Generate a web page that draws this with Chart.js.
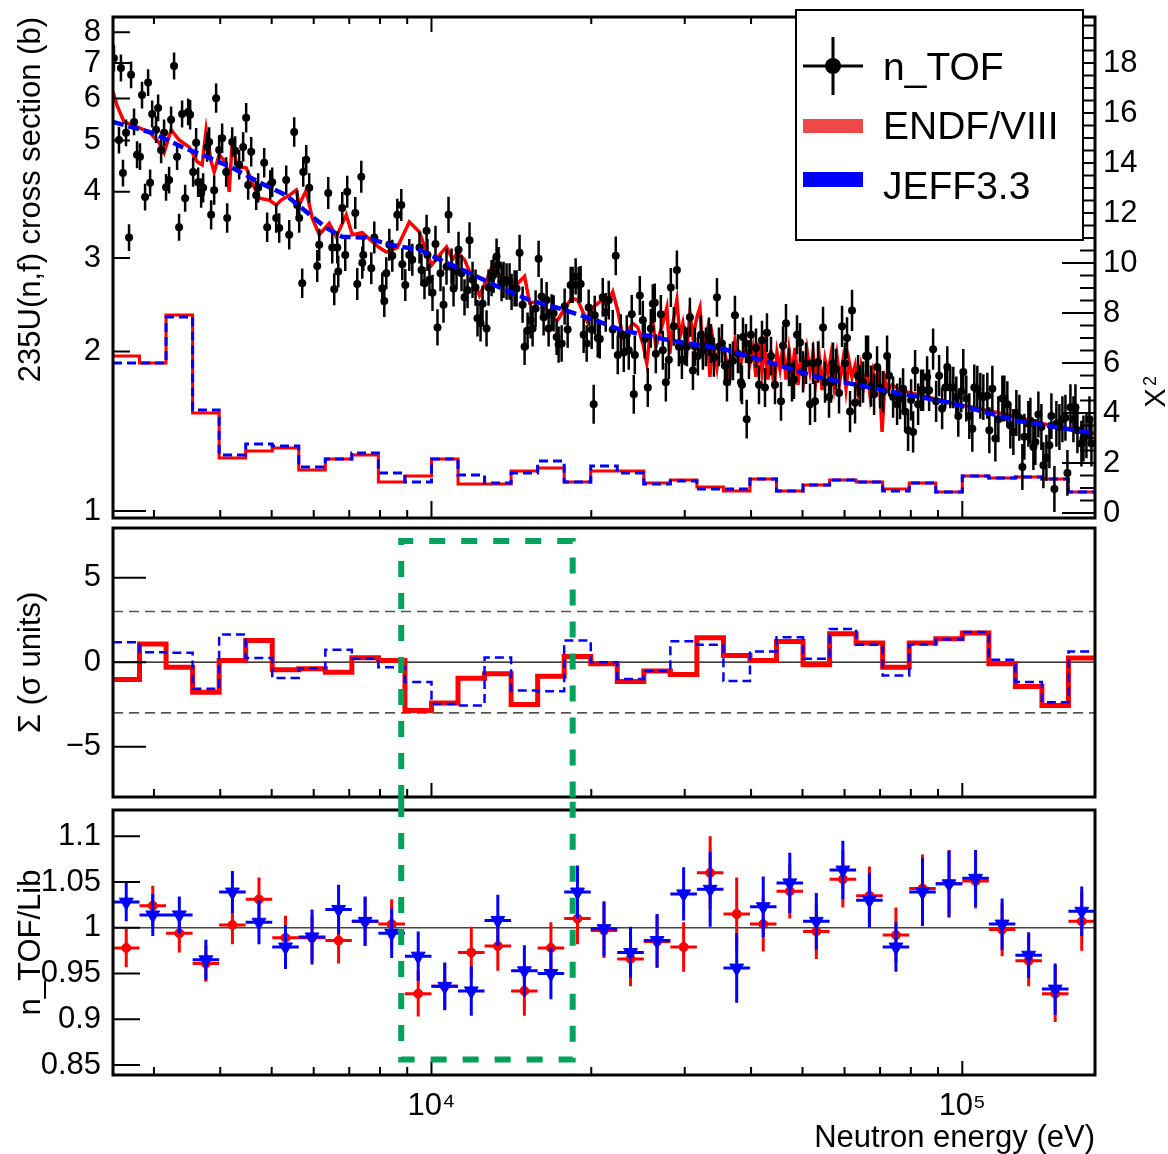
<!DOCTYPE html>
<html>
<head>
<meta charset="utf-8">
<title>235U(n,f) cross section</title>
<script src="https://cdn.jsdelivr.net/npm/chart.js@4.4.1/dist/chart.umd.min.js"></script>
<style>
  body { margin: 0; background: #fff; }
  #page { position: relative; width: 1168px; height: 1154px; }
  #page canvas { position: absolute; left: 0; }
</style>
</head>
<body>
<div id="page">
  <canvas id="xsChart" width="1168" height="524" style="top:0"></canvas>
  <canvas id="sigmaChart" width="1168" height="277" style="top:524px"></canvas>
  <canvas id="ratioChart" width="1168" height="353" style="top:801px"></canvas>
</div>
<script>
Chart.defaults.font.family = "'Liberation Sans', Arial, Helvetica, sans-serif";
Chart.defaults.color = '#000';

// ---------- axis ticks / labels ----------
const xMajorTicks = [10000, 100000];
const xTickLabels = ['10\u2074', '10\u2075'];
const xMinorTicks = [3000, 4000, 5000, 6000, 7000, 8000, 9000,
  20000, 30000, 40000, 50000, 60000, 70000, 80000, 90000];
const xsTickLabels = [1, 2, 3, 4, 5, 6, 7, 8];
const chi2TickLabels = [0, 2, 4, 6, 8, 10, 12, 14, 16, 18];
const sigmaTickLabels = [-5, 0, 5];
const ratioTickLabels = [0.85, 0.9, 0.95, 1, 1.05, 1.1];

// ---------- energy bins (eV) ----------
const binEdges = [2512, 2818, 3162, 3548, 3981, 4467, 5012, 5623, 6310, 7079,
  7943, 8913, 10000, 11220, 12589, 14125, 15849, 17783, 19953, 22387,
  25119, 28184, 31623, 35481, 39811, 44668, 50119, 56234, 63096, 70795,
  79433, 89125, 100000, 112202, 125893, 141254, 158489, 177828];

// ---------- n_TOF data points ----------
const tofEnergy = [
  2522, 2578, 2600, 2623, 2658, 2693, 2717, 2752, 2788, 2824,
  2849, 2887, 2925, 2951, 2977, 3028, 3055, 3095, 3135, 3162,
  3204, 3232, 3274, 3317, 3346, 3390, 3435, 3480, 3510, 3556,
  3603, 3634, 3682, 3714, 3779, 3812, 3845, 3896, 3929, 3981,
  4033, 4104, 4122, 4213, 4267, 4342, 4418, 4476, 4515, 4575,
  4675, 4715, 4840, 4903, 4968, 5011, 5099, 5166, 5325, 5395,
  5513, 5585, 5634, 5708, 5733, 5808, 5884, 6092, 6145, 6390,
  6502, 6559, 6645, 6674, 6791, 6879, 6939, 7185, 7248, 7375,
  7407, 7439, 7702, 7803, 8079, 8149, 8220, 8328, 8437, 8622,
  8773, 8811, 8926, 9083, 9202, 9493, 9576, 9701, 9790, 9828,
  9913, 10044, 10175, 10264, 10399, 10536, 10674, 10767, 10908, 11004,
  11148, 11245, 11393, 11541, 11693, 11795, 11950, 12106, 12211, 12372,
  12480, 12698, 12809, 12977, 13091, 13262, 13378, 13553, 13672, 13850,
  14032, 14155, 14340, 14465, 14655, 14847, 14976, 15172, 15372, 15506,
  15709, 15916, 16124, 16265, 16478, 16622, 16840, 16987, 17209, 17359,
  17587, 17818, 18052, 18289, 18449, 18689, 18934, 19100, 19350, 19604,
  19775, 20034, 20209, 20303, 20569, 20749, 21021, 21294, 21574, 21952,
  22241, 22435, 22729, 23028, 23330, 23533, 23842, 24050, 24159, 24690,
  25014, 25224, 25556, 25891, 26117, 26345, 26463, 27044, 27280, 27638,
  28001, 28245, 28616, 28995, 29248, 29632, 30021, 30282, 30680, 31083,
  31354, 31766, 32182, 32463, 32889, 33321, 33612, 34053, 34498, 34799,
  35256, 35718, 36030, 36503, 36982, 37299, 37789, 38285, 38452, 38619,
  39125, 39250, 39638, 39984, 40863, 41400, 41943, 42493, 42857, 43609,
  44374, 45547, 45945, 46544, 47154, 47773, 48190, 48819, 49460, 50109,
  50769, 51660, 52338, 52790, 53483, 54658, 55128, 56095, 56585, 57079,
  57825, 58585, 59354, 60132, 60654, 61450, 61986, 62799, 63624, 64180,
  65022, 65874, 66450, 67322, 68205, 69093, 70000, 70918, 72162, 72793,
  74069, 75361, 76350, 77352, 78027, 79049, 80087, 80786, 81489, 82559,
  83642, 84373, 85843, 86593, 88111, 89264, 90436, 91623, 92888, 93700,
  94930, 96175, 97430, 98276, 99566, 100435, 101753, 103090, 104444, 105355,
  106738, 108140, 109559, 111476, 112450, 113926, 115420, 116929, 118980, 120018,
  121584, 123180, 124796, 126432, 128092, 129773, 130905, 133196, 134360, 136123,
  137302, 139105, 140930, 142161, 144024, 145914, 147188, 149119, 150411, 152386,
  154386, 156411, 157778, 159850, 161947, 163360, 164776, 167666, 169130, 171344,
  173593, 175108
];
const tofXs = [
  7.15, 5.01, 6.85, 4.34, 5.17, 3.28, 6.65, 5.42, 4.70, 4.66,
  6.09, 3.91, 6.43, 4.16, 5.61, 5.24, 5.76, 4.80, 5.17, 4.08,
  4.21, 5.47, 6.91, 4.66, 3.43, 5.61, 3.89, 5.66, 5.59, 4.36,
  4.95, 4.17, 3.98, 4.07, 4.86, 4.97, 3.62, 4.03, 6.01, 4.80,
  5.05, 4.36, 3.57, 4.97, 4.78, 4.50, 4.86, 5.52, 4.12, 4.76,
  3.94, 4.07, 4.54, 3.43, 4.12, 4.17, 3.57, 3.42, 4.21, 3.32,
  5.19, 3.78, 3.57, 2.69, 4.36, 4.60, 4.07, 2.90, 3.18, 3.98,
  3.14, 2.62, 3.14, 2.83, 3.73, 3.04, 4.00, 3.65, 2.68, 4.27,
  2.94, 3.04, 2.87, 3.28, 2.63, 2.49, 2.81, 3.18, 3.03, 3.62,
  3.78, 2.92, 2.67, 3.04, 2.98, 3.14, 2.85, 2.69, 3.38, 3.04,
  2.73, 2.58, 3.19, 2.22, 2.81, 2.45, 2.89, 3.62, 2.89, 2.63,
  2.84, 3.11, 2.81, 2.53, 2.61, 3.24, 2.73, 2.64, 2.31, 2.26,
  2.46, 2.21, 2.64, 2.75, 2.79, 3.02, 2.91, 2.69, 2.73, 2.71,
  2.71, 2.59, 2.63, 2.63, 3.07, 2.45, 2.04, 2.19, 2.29, 2.21,
  2.41, 2.99, 2.54, 2.32, 2.50, 2.21, 2.37, 2.36, 2.13, 2.06,
  2.07, 2.43, 2.20, 2.67, 2.67, 2.77, 2.67, 2.68, 2.15, 2.07,
  2.42, 2.20, 1.59, 2.34, 2.12, 2.11, 2.53, 2.37, 2.50, 2.20,
  3.03, 1.97, 2.16, 1.99, 2.15, 2.01, 2.35, 1.66, 1.97, 2.55,
  2.29, 2.11, 1.71, 2.21, 2.46, 2.47, 1.98, 2.35, 2.01, 1.75,
  1.93, 2.64, 2.23, 2.85, 2.04, 1.93, 2.05, 2.04, 2.32, 1.84,
  2.04, 1.96, 2.15, 2.01, 2.04, 2.13, 2.07, 1.95, 2.53, 2.04,
  2.07, 1.88, 1.75, 1.90, 1.92, 2.34, 1.98, 1.75, 1.73, 2.13,
  2.07, 1.49, 1.93, 2.15, 2.03, 1.73, 2.10, 1.71, 2.17, 1.96,
  1.73, 1.61, 2.05, 2.26, 1.87, 1.75, 1.77, 2.15, 2.08, 1.83,
  1.90, 1.59, 1.90, 1.61, 1.91, 2.22, 1.75, 1.64, 1.75, 1.90,
  1.85, 1.67, 2.23, 1.90, 2.12, 1.54, 2.39, 1.60, 1.80, 1.72,
  1.75, 1.96, 1.96, 1.72, 1.66, 1.87, 1.71, 1.68, 1.96, 1.80,
  1.64, 1.59, 1.63, 1.70, 1.54, 1.42, 1.62, 1.41, 1.84, 1.59,
  1.69, 1.69, 1.79, 1.69, 2.02, 1.61, 1.80, 1.56, 1.71, 1.87,
  1.71, 1.71, 1.64, 1.51, 1.68, 1.83, 1.63, 1.51, 1.43, 1.71,
  1.70, 1.65, 1.64, 1.65, 1.42, 1.70, 1.37, 1.49, 1.63, 1.63,
  1.59, 1.45, 1.41, 1.53, 1.50, 1.21, 1.38, 1.46, 1.48, 1.32,
  1.35, 1.52, 1.44, 1.22, 1.26, 1.33, 1.51, 1.10, 1.46, 1.44,
  1.49, 1.50, 1.18, 1.57, 1.49, 1.57, 1.42, 1.34, 1.37, 1.39,
  1.49, 1.34
];
// relative uncertainty of n_TOF points, by energy band [upper edge, rel. error]
const tofRelErr = [[3500, 0.06], [6000, 0.066], [10000, 0.072], [20000, 0.082],
  [50000, 0.088], [100000, 0.094], [1e9, 0.105]];

// ---------- evaluated libraries ----------
const endfEnergy = [
  2512, 2555, 2635, 2728, 2938, 3068, 3135, 3232, 3346, 3495,
  3618, 3698, 3763, 3845, 3896, 3981, 4104, 4158, 4213, 4304,
  4476, 4594, 4736, 4946, 5099, 5211, 5395, 5561, 5634, 5808,
  5961, 6145, 6418, 6616, 6909, 7092, 7407, 7735, 7974, 8220,
  8622, 9083, 9493, 9701, 10000, 10264, 10674, 10956, 11196, 11541,
  11898, 12318, 12698, 13034, 13553, 13910, 14340, 14655, 14976, 15305,
  15778, 16195, 16840, 17284, 17818, 18369, 18852, 19604, 20122, 20930,
  21387, 21952, 22435, 22928, 23431, 23946, 24476, 25014, 25445, 25779,
  26117, 26463, 27280, 27759, 28123, 28492, 28995, 29376, 29761, 30282,
  30680, 31083, 31628, 32043, 32463, 33032, 33466, 33905, 34498, 34951,
  35718, 36503, 37299, 38119, 38956, 39811, 40333, 40863, 41400, 41943,
  42493, 43044, 43609, 44182, 44762, 45350, 45945, 46544, 47154, 47773,
  48400, 49032, 49675, 50327, 50991, 51660, 52338, 53020, 53716, 54421,
  55128, 55852, 56585, 57328, 58077, 58840, 59612, 60391, 61183, 61986,
  62799, 63624, 64459, 65305, 66161, 67030, 67909, 68793, 69696, 70611,
  71537, 72477, 73748, 76350, 94930, 117950, 146550, 177828
];
const endfXs = [
  6.18, 5.83, 5.42, 5.35, 5.19, 4.95, 4.74, 5.24, 5.01, 4.86,
  4.56, 4.50, 5.24, 4.56, 4.36, 4.70, 4.54, 4.00, 4.97, 4.46,
  4.44, 4.17, 3.89, 3.86, 3.78, 3.86, 3.94, 4.03, 3.78, 4.03,
  3.57, 3.32, 3.49, 3.29, 3.62, 3.32, 3.35, 3.22, 3.14, 3.08,
  3.14, 3.51, 3.36, 3.15, 2.91, 3.01, 3.15, 2.98, 3.07, 2.98,
  2.77, 2.55, 2.73, 2.91, 2.75, 2.75, 2.64, 2.71, 2.77, 2.47,
  2.48, 2.47, 2.32, 2.29, 2.41, 2.52, 2.50, 2.29, 2.42, 2.50,
  2.45, 2.59, 2.39, 2.13, 2.19, 2.26, 2.22, 2.07, 1.90, 2.13,
  2.29, 2.04, 2.26, 2.42, 1.98, 2.26, 2.50, 2.13, 2.26, 2.01,
  2.36, 2.13, 2.32, 2.42, 1.98, 2.17, 1.79, 2.10, 1.87, 2.10,
  1.98, 1.79, 2.10, 1.87, 2.04, 1.90, 2.03, 1.79, 2.08, 1.83,
  2.05, 1.77, 2.01, 1.70, 1.99, 1.85, 2.05, 1.77, 2.01, 1.81,
  2.03, 1.73, 1.97, 1.79, 2.01, 1.83, 1.99, 1.77, 1.97, 1.69,
  1.93, 1.81, 1.97, 1.73, 1.96, 1.77, 1.93, 1.70, 1.92, 1.79,
  1.88, 1.68, 1.87, 1.73, 1.85, 1.65, 1.83, 1.73, 1.81, 1.41,
  1.77, 1.69, 1.73, 1.69, 1.60, 1.53, 1.45, 1.40
];
const jeffEnergy = [2512, 2977, 3390, 3812, 4213, 4736, 5325, 5808, 6335, 6791,
  7536, 8328, 9493, 10581, 11795, 13436, 15305, 17435, 19861, 22631,
  26117, 30282, 34951, 41580, 53251, 70918, 94930, 126982, 177828];
const jeffXs = [5.42, 5.17, 4.86, 4.64, 4.44, 4.17, 3.94, 3.67, 3.42, 3.29,
  3.28, 3.18, 3.11, 2.95, 2.81, 2.64, 2.50, 2.41, 2.31, 2.20,
  2.13, 2.07, 2.03, 1.93, 1.79, 1.69, 1.60, 1.48, 1.40];

// ---------- chi2 per bin (right axis) ----------
const chi2Endf = [6.28, 6.00, 7.92, 4.00, 2.20, 2.48, 2.60, 1.72, 2.16, 2.32,
  1.24, 1.48, 2.16, 1.16, 1.16, 1.68, 1.80, 1.24, 1.68, 1.68,
  1.20, 1.32, 1.04, 0.88, 1.36, 0.88, 1.12, 1.32, 1.24, 0.96,
  1.20, 0.84, 1.48, 1.40, 1.44, 1.36, 0.84];
const chi2Jeff = [6.00, 6.00, 7.84, 4.12, 2.32, 2.76, 2.68, 1.84, 2.16, 2.40,
  1.60, 1.24, 2.16, 1.52, 1.20, 1.60, 2.08, 1.24, 1.88, 1.60,
  1.16, 1.28, 0.96, 0.96, 1.36, 0.88, 1.12, 1.32, 1.24, 0.88,
  1.20, 0.84, 1.48, 1.40, 1.44, 1.36, 0.84];

// ---------- Sigma (sigma units) ----------
const sigmaEndf = [-1.03, 1.08, -0.30, -1.78, 0.10, 1.28, -0.45, -0.39, -0.59, 0.26,
  0.10, -2.86, -2.41, -0.95, -0.69, -2.50, -0.83, 0.33, -0.10, -1.14,
  -0.53, -0.73, 1.44, 0.39, 0.10, 1.22, -0.16, 1.68, 1.14, -0.30,
  1.14, 1.38, 1.72, -0.10, -1.44, -2.56, 0.24];
const sigmaJeff = [1.18, 0.59, 0.55, -1.58, 1.64, 0.24, -0.93, -0.36, 0.73, 0.20,
  -0.30, -1.18, -2.47, -2.56, 0.28, -1.68, -1.72, 1.28, 0.00, -0.99,
  -0.53, 1.24, 1.03, -1.12, 0.63, 1.48, 0.20, 1.97, 1.03, -0.79,
  1.05, 1.34, 1.78, 0.14, -1.18, -2.37, 0.63];

// ---------- n_TOF / library ratio ----------
const ratioEndf = [0.978, 1.024, 0.994, 0.961, 1.003, 1.031, 0.989, 0.989, 0.986, 1.007,
  1.004, 0.928, 0.936, 0.973, 0.980, 0.931, 0.978, 1.010, 0.997, 0.966,
  0.985, 0.979, 1.060, 1.015, 1.004, 1.040, 0.996, 1.053, 1.035, 0.992,
  1.043, 1.048, 1.051, 0.998, 0.964, 0.928, 1.007];
const ratioEndfErr = [0.021, 0.022, 0.021, 0.020, 0.021, 0.024, 0.024, 0.025, 0.025, 0.026,
  0.027, 0.025, 0.025, 0.028, 0.027, 0.027, 0.028, 0.028, 0.030, 0.030,
  0.029, 0.027, 0.040, 0.040, 0.030, 0.030, 0.030, 0.031, 0.032, 0.030,
  0.037, 0.037, 0.030, 0.029, 0.028, 0.031, 0.032];
const ratioJeff = [1.028, 1.014, 1.014, 0.965, 1.039, 1.006, 0.979, 0.990, 1.020, 1.007,
  0.994, 0.969, 0.936, 0.931, 1.008, 0.953, 0.950, 1.039, 0.999, 0.973,
  0.986, 1.037, 1.042, 0.956, 1.023, 1.049, 1.007, 1.063, 1.030, 0.979,
  1.039, 1.048, 1.054, 1.004, 0.970, 0.933, 1.018];
const ratioJeffErr = [0.021, 0.023, 0.020, 0.022, 0.023, 0.024, 0.024, 0.030, 0.027, 0.027,
  0.027, 0.027, 0.026, 0.027, 0.028, 0.028, 0.028, 0.029, 0.030, 0.028,
  0.029, 0.029, 0.041, 0.038, 0.033, 0.033, 0.031, 0.032, 0.030, 0.027,
  0.037, 0.036, 0.031, 0.028, 0.025, 0.028, 0.027];

// highlighted energy window (green box)
const boxEnergy = [8770, 18450];
const boxSigmaTop = 7.17;
const boxRatioBottom = 0.856;

// ---------- helpers ----------
const FONT = "'Liberation Sans', Arial, Helvetica, sans-serif";

function histPoints(values) {
  const pts = values.map(function(v, i) { return {x: binEdges[i], y: v}; });
  pts.push({x: binEdges[values.length], y: values[values.length - 1]});
  return pts;
}

function binCenter(i) {
  return Math.sqrt(binEdges[i] * binEdges[i + 1]);
}

function relErrFor(e) {
  for (let i = 0; i < tofRelErr.length; i++) {
    if (e < tofRelErr[i][0]) return tofRelErr[i][1];
  }
  return 0.1;
}

function fixedTicks(list) {
  return function(scale) {
    scale.ticks = list.map(function(v) { return {value: v}; });
  };
}

function fixedWidth(w) {
  return function(scale) {
    scale.width = w;
    scale.paddingTop = 0; scale.paddingBottom = 0;
    scale.paddingLeft = 0; scale.paddingRight = 0;
  };
}

function xAxis(show) {
  const ax = {
    type: 'logarithmic', min: binEdges[0], max: binEdges[binEdges.length - 1],
    bounds: 'data', display: show,
    grid: {display: false, drawTicks: false}, border: {display: false},
    afterBuildTicks: fixedTicks(xMajorTicks)
  };
  if (show) {
    ax.ticks = {
      font: {size: 31}, padding: 13, maxRotation: 0, autoSkip: false,
      callback: function(v) { return xTickLabels[xMajorTicks.indexOf(v)]; }
    };
    ax.title = {display: true, text: 'Neutron energy (eV)', align: 'end',
      font: {size: 31, lineHeight: 1}, padding: {top: 0, bottom: 0}};
    ax.afterFit = function(scale) {
      scale.height = 79;
      scale.paddingLeft = 0; scale.paddingRight = 0;
    };
  }
  return ax;
}

// ROOT-like frame, inward ticks, reference lines, error bars
function rootPanel(cfg) {
  return {
    id: 'rootPanel',
    beforeDatasetsDraw: function(chart) {
      const ctx = chart.ctx, a = chart.chartArea, y = chart.scales.y;
      (cfg.refLines || []).forEach(function(l) {
        const py = y.getPixelForValue(l.y);
        ctx.save();
        ctx.strokeStyle = l.color; ctx.lineWidth = l.width;
        ctx.setLineDash(l.dash || []);
        ctx.beginPath(); ctx.moveTo(a.left, py); ctx.lineTo(a.right, py); ctx.stroke();
        ctx.restore();
      });
    },
    beforeDatasetDraw: function(chart, args) {
      const ds = chart.data.datasets[args.index];
      if (!ds.errLo) return;
      const ctx = chart.ctx, a = chart.chartArea;
      const x = chart.scales.x, y = chart.scales[ds.yAxisID || 'y'];
      ctx.save();
      ctx.beginPath(); ctx.rect(a.left, a.top, a.right - a.left, a.bottom - a.top); ctx.clip();
      ctx.strokeStyle = ds.errColor; ctx.lineWidth = ds.errWidth;
      ctx.beginPath();
      ds.data.forEach(function(p, i) {
        const px = x.getPixelForValue(p.x);
        ctx.moveTo(px, y.getPixelForValue(ds.errLo[i]));
        ctx.lineTo(px, y.getPixelForValue(ds.errHi[i]));
        if (ds.binLo) {
          const py = y.getPixelForValue(p.y);
          ctx.moveTo(x.getPixelForValue(ds.binLo[i]), py);
          ctx.lineTo(x.getPixelForValue(ds.binHi[i]), py);
        }
      });
      ctx.stroke();
      ctx.restore();
    },
    afterDatasetsDraw: function(chart) {
      const ctx = chart.ctx, a = chart.chartArea, x = chart.scales.x;
      ctx.save();
      ctx.strokeStyle = '#000';
      ctx.lineWidth = 2;
      ctx.beginPath();
      xMinorTicks.concat(xMajorTicks).forEach(function(v) {
        const px = x.getPixelForValue(v);
        const big = xMajorTicks.indexOf(v) >= 0 ? 0 : 1;
        if (cfg.xBottom) { ctx.moveTo(px, a.bottom); ctx.lineTo(px, a.bottom - cfg.xBottom[big]); }
        if (cfg.xTop) { ctx.moveTo(px, a.top); ctx.lineTo(px, a.top + cfg.xTop[big]); }
      });
      cfg.yTicks.forEach(function(t) {
        const s = chart.scales[t.axis];
        t.values.forEach(function(v) {
          const py = s.getPixelForValue(v);
          if (t.side === 'left') { ctx.moveTo(a.left, py); ctx.lineTo(a.left + t.len, py); }
          else { ctx.moveTo(a.right, py); ctx.lineTo(a.right - t.len, py); }
        });
      });
      ctx.stroke();
      ctx.lineWidth = 3;
      ctx.strokeRect(a.left, a.top, a.right - a.left, a.bottom - a.top);
      ctx.restore();
    },
    afterDraw: function(chart) {
      if (cfg.overlay) cfg.overlay(chart);
    }
  };
}

function drawGreenBox(chart, topVal, bottomVal) {
  const ctx = chart.ctx, x = chart.scales.x, y = chart.scales.y;
  const x1 = x.getPixelForValue(boxEnergy[0]), x2 = x.getPixelForValue(boxEnergy[1]);
  ctx.save();
  ctx.strokeStyle = '#00a35a';
  ctx.lineWidth = 6;
  ctx.setLineDash([16, 16]);
  ctx.beginPath();
  if (topVal !== null) {
    const py = y.getPixelForValue(topVal);
    ctx.moveTo(x1, chart.height); ctx.lineTo(x1, py); ctx.lineTo(x2, py); ctx.lineTo(x2, chart.height);
  } else {
    const py = y.getPixelForValue(bottomVal);
    ctx.moveTo(x1, 0); ctx.lineTo(x1, py); ctx.lineTo(x2, py); ctx.lineTo(x2, 0);
  }
  ctx.stroke();
  ctx.restore();
}

function drawLegendAndChi2Title(chart) {
  const ctx = chart.ctx;
  ctx.save();
  // legend box
  ctx.fillStyle = '#fff';
  ctx.fillRect(796, 10, 287, 230);
  ctx.strokeStyle = '#000'; ctx.lineWidth = 2;
  ctx.strokeRect(796, 10, 287, 230);
  // n_TOF marker
  ctx.lineWidth = 3;
  ctx.beginPath();
  ctx.moveTo(803, 66); ctx.lineTo(863, 66);
  ctx.moveTo(833, 37); ctx.lineTo(833, 95);
  ctx.stroke();
  ctx.fillStyle = '#000';
  ctx.beginPath(); ctx.arc(833, 66, 8, 0, Math.PI * 2); ctx.fill();
  // library swatches
  ctx.fillStyle = '#f04848'; ctx.fillRect(803, 119, 60, 14);
  ctx.fillStyle = '#0000ff'; ctx.fillRect(803, 172, 60, 15);
  ctx.fillStyle = '#000';
  ctx.font = '39px ' + FONT;
  ctx.textBaseline = 'alphabetic';
  ctx.fillText('n_TOF', 883, 80);
  ctx.fillText('ENDF/VIII', 883, 139);
  ctx.fillText('JEFF3.3', 883, 199);
  // right axis title
  ctx.translate(1157, 398);
  ctx.rotate(-Math.PI / 2);
  ctx.textAlign = 'center'; ctx.textBaseline = 'middle';
  ctx.font = '29px ' + FONT;
  ctx.fillText('X', 0, 0);
  ctx.font = '18px ' + FONT;
  ctx.fillText('2', 17, -6);
  ctx.restore();
}

const commonOpts = {
  responsive: false, animation: false, events: [],
  plugins: {legend: {display: false}, tooltip: {enabled: false}}
};

// ---------- top panel: cross section + chi2 ----------
const tofData = tofEnergy.map(function(e, i) { return {x: e, y: tofXs[i]}; });
const chi2Minor = [];
for (let v = 0.5; v < 19.9; v += 0.5) { if (v % 2 !== 0) chi2Minor.push(v); }

new Chart(document.getElementById('xsChart'), {
  type: 'line',
  data: {
    datasets: [{
      label: 'chi2 ENDF', yAxisID: 'y2', data: histPoints(chi2Endf),
      borderColor: '#ff0000', borderWidth: 3, stepped: true, pointRadius: 0, fill: false, order: 6
    }, {
      label: 'chi2 JEFF', yAxisID: 'y2', data: histPoints(chi2Jeff),
      borderColor: '#0000ff', borderWidth: 3, borderDash: [9, 5], stepped: true, pointRadius: 0, fill: false, order: 5
    }, {
      label: 'ENDF/VIII', yAxisID: 'y',
      data: endfEnergy.map(function(e, i) { return {x: e, y: endfXs[i]}; }),
      borderColor: '#ff0000', borderWidth: 3.5, pointRadius: 0, fill: false, tension: 0, order: 4
    }, {
      label: 'n_TOF', yAxisID: 'y', data: tofData, showLine: false,
      pointRadius: 4, pointBackgroundColor: '#000', pointBorderWidth: 0,
      errLo: tofData.map(function(p) { return p.y / (1 + relErrFor(p.x)); }),
      errHi: tofData.map(function(p) { return p.y * (1 + relErrFor(p.x)); }),
      errColor: '#000', errWidth: 2.5, order: 3
    }, {
      label: 'JEFF3.3', yAxisID: 'y',
      data: jeffEnergy.map(function(e, i) { return {x: e, y: jeffXs[i]}; }),
      borderColor: '#0000ff', borderWidth: 4.5, borderDash: [11, 5], pointRadius: 0, fill: false, tension: 0, order: 2
    }]
  },
  options: Object.assign({}, commonOpts, {
    layout: {padding: {top: 17, bottom: 6, left: 0, right: 0}},
    scales: {
      x: xAxis(false),
      y: {
        type: 'logarithmic', position: 'left', min: 0.970, max: 8.55, bounds: 'data',
        grid: {display: false, drawTicks: false}, border: {display: false},
        afterBuildTicks: fixedTicks(xsTickLabels), afterFit: fixedWidth(113),
        ticks: {font: {size: 31}, padding: 12, callback: function(v) { return String(v); }},
        title: {display: true, text: '235U(n,f) cross section (b)', align: 'end',
          font: {size: 31}, padding: {top: 13, bottom: 0}}
      },
      y2: {
        type: 'linear', position: 'right', min: -0.2, max: 19.84, bounds: 'data',
        grid: {display: false, drawTicks: false}, border: {display: false},
        afterBuildTicks: fixedTicks(chi2TickLabels), afterFit: fixedWidth(73),
        ticks: {font: {size: 31}, padding: 8}
      }
    }
  }),
  plugins: [rootPanel({
    xBottom: [17, 8], xTop: [15, 7],
    yTicks: [
      {axis: 'y', side: 'left', values: [1], len: 33},
      {axis: 'y', side: 'left', values: xsTickLabels.slice(1), len: 17},
      {axis: 'y2', side: 'right', values: chi2TickLabels, len: 33},
      {axis: 'y2', side: 'right', values: chi2Minor, len: 15}
    ],
    overlay: drawLegendAndChi2Title
  })]
});

// ---------- middle panel: Sigma ----------
new Chart(document.getElementById('sigmaChart'), {
  type: 'line',
  data: {
    datasets: [{
      label: 'ENDF/VIII', data: histPoints(sigmaEndf),
      borderColor: '#ff0000', borderWidth: 5, stepped: true, pointRadius: 0, fill: false, order: 2
    }, {
      label: 'JEFF3.3', data: histPoints(sigmaJeff),
      borderColor: '#0000ff', borderWidth: 2.5, borderDash: [9, 5], stepped: true, pointRadius: 0, fill: false, order: 1
    }]
  },
  options: Object.assign({}, commonOpts, {
    layout: {padding: {top: 4, bottom: 4, left: 0, right: 73}},
    scales: {
      x: xAxis(false),
      y: {
        type: 'linear', min: -7.98, max: 7.94, bounds: 'data',
        grid: {display: false, drawTicks: false}, border: {display: false},
        afterBuildTicks: fixedTicks(sigmaTickLabels), afterFit: fixedWidth(113),
        ticks: {font: {size: 31}, padding: 12,
          callback: function(v) { return v < 0 ? '\u2212' + Math.abs(v) : String(v); }},
        title: {display: true, text: '\u03a3 (\u03c3 units)', font: {size: 31}, padding: {top: 13, bottom: 0}}
      }
    }
  }),
  plugins: [rootPanel({
    xBottom: [14, 8],
    yTicks: [{axis: 'y', side: 'left', values: sigmaTickLabels, len: 33}],
    refLines: [
      {y: 0, color: '#000', width: 1.2},
      {y: 3, color: '#555', width: 1.6, dash: [10, 6]},
      {y: -3, color: '#555', width: 1.6, dash: [10, 6]}
    ],
    overlay: function(chart) { drawGreenBox(chart, boxSigmaTop, null); }
  })]
});

// ---------- bottom panel: ratio ----------
function ratioDataset(label, values, errs, color, style, radius, order) {
  return {
    label: label,
    data: values.map(function(v, i) { return {x: binCenter(i), y: v}; }),
    showLine: false, pointStyle: style, pointRadius: radius,
    pointRotation: style === 'triangle' ? 180 : 0,
    pointBackgroundColor: color, pointBorderColor: color, pointBorderWidth: 1,
    errLo: values.map(function(v, i) { return v - errs[i]; }),
    errHi: values.map(function(v, i) { return v + errs[i]; }),
    binLo: binEdges.slice(0, values.length), binHi: binEdges.slice(1),
    errColor: color, errWidth: 3, order: order
  };
}

new Chart(document.getElementById('ratioChart'), {
  type: 'line',
  data: {
    datasets: [
      ratioDataset('ENDF/VIII', ratioEndf, ratioEndfErr, '#ff0000', 'circle', 4.5, 2),
      ratioDataset('JEFF3.3', ratioJeff, ratioJeffErr, '#0000ff', 'triangle', 8, 1)
    ]
  },
  options: Object.assign({}, commonOpts, {
    layout: {padding: {top: 4, bottom: 0, left: 0, right: 73}},
    scales: {
      x: xAxis(true),
      y: {
        type: 'linear', min: 0.8392, max: 1.1286, bounds: 'data',
        grid: {display: false, drawTicks: false}, border: {display: false},
        afterBuildTicks: fixedTicks(ratioTickLabels), afterFit: fixedWidth(113),
        ticks: {font: {size: 31}, padding: 12, callback: function(v) { return String(v); }},
        title: {display: true, text: 'n_TOF/Lib', font: {size: 31}, padding: {top: 13, bottom: 0}}
      }
    }
  }),
  plugins: [rootPanel({
    xBottom: [14, 8],
    yTicks: [{axis: 'y', side: 'left', values: ratioTickLabels, len: 27}],
    refLines: [{y: 1, color: '#444', width: 1.6}],
    overlay: function(chart) { drawGreenBox(chart, null, boxRatioBottom); }
  })]
});
</script>
</body>
</html>
